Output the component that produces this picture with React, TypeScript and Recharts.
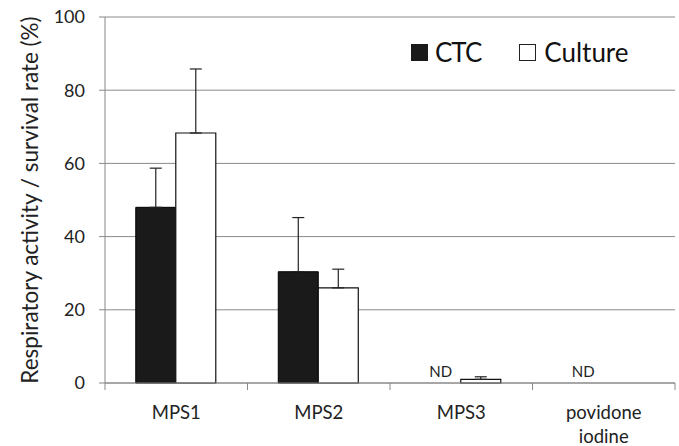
import React from 'react';
import {
    BarChart,
    Bar,
    Cell,
    XAxis,
    YAxis,
    CartesianGrid,
    ErrorBar,
    LabelList,
} from 'recharts';

const categories = ['MPS1', 'MPS2', 'MPS3', 'povidone iodine'];
const ctcValues = [48, 30.4, 0, 0];
const ctcErrors = [10.7, 14.8, null, null];
const cultureValues = [68.3, 26, 1, 0];
const cultureErrors = [17.5, 5.1, 0.7, null];
const ctcNotes = ['', '', 'ND', 'ND'];
const yTicks = [0, 20, 40, 60, 80, 100];

const FONT = 'Lato, "Open Sans", sans-serif';

// the chart fills the whole window, so drop the default body margin
document.body.style.margin = '0';

const data = categories.map((name, i) => ({
    name,
    ctc: ctcValues[i],
    ctcErr: ctcErrors[i] == null ? null : [0, ctcErrors[i]],
    culture: cultureValues[i],
    cultureErr: cultureErrors[i] == null ? null : [0, cultureErrors[i]],
    note: ctcNotes[i],
}));

const CategoryTick = (props: any) => {
    const { x, y, payload, index, visibleTicksCount } = props;
    const half = payload.offset ?? 71;
    const words = payload.value === 'povidone iodine' ? ['povidone', 'iodine'] : [payload.value];
    const isLast = index === (visibleTicksCount ?? categories.length) - 1;
    return (
        <g>
            <line x1={x - half} y1={y} x2={x - half} y2={y + 7} stroke="#888" />
            {isLast && <line x1={x + half} y1={y} x2={x + half} y2={y + 7} stroke="#888" />}
            {words.map((w: string, i: number) => (
                <text
                    key={i}
                    x={x}
                    y={y + 36 + i * 24}
                    textAnchor="middle"
                    fontSize={18.5}
                    fontFamily={FONT}
                    fill="#222"
                >
                    {w}
                </text>
            ))}
        </g>
    );
};

// legend sits inside the plot, top right
const ChartLegend = () => (
    <div
        style={{
            position: 'absolute',
            left: 411,
            top: 37,
            display: 'flex',
            alignItems: 'center',
            fontFamily: FONT,
            fontSize: 26,
            color: '#111',
            lineHeight: '30px',
        }}
    >
        <span style={{ width: 17, height: 17, background: '#1a1a1a', display: 'inline-block', marginRight: 7 }} />
        <span style={{ marginRight: 38, letterSpacing: -1 }}>CTC</span>
        <span style={{ width: 15, height: 15, background: '#fff', border: '1px solid #222', display: 'inline-block', marginRight: 8 }} />
        <span>Culture</span>
    </div>
);

export default function App() {
    return (
        <div style={{ position: 'relative', width: 679, height: 446, overflow: 'hidden' }}>
            <BarChart
                width={679}
                height={446}
                data={data}
                margin={{ top: 17, right: 4, left: 0, bottom: 0 }}
                barGap={0}
                barCategoryGap="21.6%"
            >
                <CartesianGrid vertical={false} stroke="#8a8a8a" />
                <XAxis
                    dataKey="name"
                    height={63}
                    axisLine={{ stroke: '#888' }}
                    tickLine={false}
                    tickSize={0}
                    tickMargin={0}
                    interval={0}
                    tick={<CategoryTick />}
                />
                <YAxis
                    width={105}
                    domain={[0, 100]}
                    ticks={yTicks}
                    axisLine={{ stroke: '#888' }}
                    tickLine={{ stroke: '#888' }}
                    tickSize={6}
                    tickMargin={14}
                    tick={{ fill: '#222', fontSize: 18, fontFamily: FONT }}
                    label={{
                        value: 'Respiratory activity / survival rate (%)',
                        angle: -90,
                        position: 'insideLeft',
                        offset: 30,
                        style: { textAnchor: 'middle', fill: '#222', fontSize: 22.5, fontFamily: FONT },
                    }}
                />
                <Bar
                    dataKey="ctc"
                    fill="#1a1a1a"
                    stroke="#000"
                    strokeWidth={1}
                    minPointSize={0.01}
                    isAnimationActive={false}
                >
                    {data.map((d, i) => (
                        <Cell key={i} stroke={d.ctc > 0 ? '#000' : 'none'} fill={d.ctc > 0 ? '#1a1a1a' : 'none'} />
                    ))}
                    <ErrorBar dataKey="ctcErr" width={6} stroke="#222" strokeWidth={1.2} direction="y" />
                    <LabelList dataKey="note" position="top" offset={6} style={{ fill: '#222', fontSize: 15, fontFamily: FONT }} />
                </Bar>
                <Bar dataKey="culture" fill="#fff" stroke="#111" strokeWidth={1.2} isAnimationActive={false}>
                    <ErrorBar dataKey="cultureErr" width={6} stroke="#222" strokeWidth={1.2} direction="y" />
                </Bar>
            </BarChart>
            <ChartLegend />
        </div>
    );
}
